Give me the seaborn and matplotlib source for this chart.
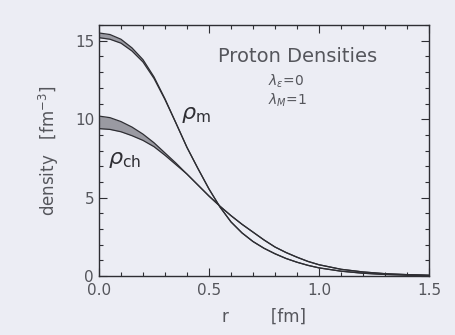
import matplotlib
matplotlib.use("Agg")
import matplotlib.pyplot as plt
import pandas as pd
import seaborn as sns
from matplotlib.ticker import FormatStrFormatter, MultipleLocator

# radius [fm]
r = [0.0, 0.05, 0.1, 0.15, 0.2, 0.25, 0.3, 0.35, 0.4, 0.45, 0.5, 0.55, 0.6,
     0.65, 0.7, 0.75, 0.8, 0.85, 0.9, 0.95, 1.0, 1.1, 1.2, 1.3, 1.4, 1.5]

# matter density band (upper / lower edge)
rho_m_hi = [15.5, 15.4, 15.1, 14.55, 13.8, 12.7, 11.3, 9.75, 8.2, 6.85, 5.55,
            4.4, 3.45, 2.75, 2.2, 1.77, 1.42, 1.12, 0.88, 0.68, 0.52, 0.31,
            0.18, 0.1, 0.06, 0.03]
rho_m_lo = [15.2, 15.1, 14.85, 14.35, 13.65, 12.6, 11.25, 9.75, 8.2, 6.85, 5.55,
            4.4, 3.45, 2.75, 2.2, 1.77, 1.42, 1.12, 0.88, 0.68, 0.52, 0.31,
            0.18, 0.1, 0.06, 0.03]

# charge density band (upper / lower edge)
rho_ch_hi = [10.2, 10.1, 9.85, 9.5, 9.05, 8.5, 7.85, 7.2, 6.5, 5.8, 5.1, 4.45,
             3.85, 3.3, 2.8, 2.3, 1.85, 1.5, 1.2, 0.93, 0.72, 0.43, 0.26, 0.15,
             0.09, 0.05]
rho_ch_lo = [9.4, 9.35, 9.2, 8.95, 8.65, 8.25, 7.7, 7.1, 6.5, 5.8, 5.1, 4.45,
             3.85, 3.3, 2.8, 2.3, 1.85, 1.5, 1.2, 0.93, 0.72, 0.43, 0.26, 0.15,
             0.09, 0.05]

bg = "#ecedf4"
ink = "#2e2e33"
txt = "#55565c"

sns.set_style("ticks")
plt.rcParams["font.family"] = ["DejaVu Sans"]

df = pd.DataFrame({"r": r, "m_hi": rho_m_hi, "m_lo": rho_m_lo,
                   "ch_hi": rho_ch_hi, "ch_lo": rho_ch_lo})

fig = plt.figure(figsize=(4.56, 3.35), dpi=100, facecolor=bg)
ax = fig.add_axes([0.217, 0.176, 0.724, 0.749], facecolor=bg)

# shaded uncertainty bands
ax.fill_between(df["r"], df["m_lo"], df["m_hi"], color="#9a9aa2", lw=0)
ax.fill_between(df["r"], df["ch_lo"], df["ch_hi"], color="#9a9aa2", lw=0)

for col in ["m_hi", "m_lo", "ch_hi", "ch_lo"]:
    sns.lineplot(data=df, x="r", y=col, ax=ax, color=ink, lw=0.9)

ax.set_xlim(0, 1.5)
ax.set_ylim(0, 16)
ax.xaxis.set_major_locator(MultipleLocator(0.5))
ax.xaxis.set_minor_locator(MultipleLocator(0.1))
ax.yaxis.set_major_locator(MultipleLocator(5))
ax.yaxis.set_minor_locator(MultipleLocator(1))
ax.xaxis.set_major_formatter(FormatStrFormatter("%.1f"))
ax.tick_params(which="both", direction="in", top=True, right=True,
               colors=ink, labelcolor=txt, labelsize=11, width=0.8)
ax.tick_params(which="major", length=6)
ax.tick_params(which="minor", length=3)
ax.tick_params(axis="x", pad=5)
for s in ax.spines.values():
    s.set_color(ink)
    s.set_linewidth(1.0)

ax.set_xlabel("r        [fm]", color=txt, fontsize=12, labelpad=7)
ax.set_ylabel("density   [fm$^{-3}$]", color=txt, fontsize=12, labelpad=10)

ax.text(0.54, 14.0, "Proton Densities", color=txt, fontsize=14, ha="left",
        va="center")
ax.text(0.77, 12.4, r"$\lambda_\epsilon$=0", color=txt, fontsize=10,
        ha="left", va="center")
ax.text(0.77, 11.2, r"$\lambda_M$=1", color=txt, fontsize=10,
        ha="left", va="center")
ax.text(0.375, 10.3, r"$\rho_{\mathrm{m}}$", color=ink, fontsize=16,
        ha="left", va="center")
ax.text(0.04, 7.4, r"$\rho_{\mathrm{ch}}$", color=ink, fontsize=16,
        ha="left", va="center")

fig.savefig("out.png", dpi=100, facecolor=bg)
